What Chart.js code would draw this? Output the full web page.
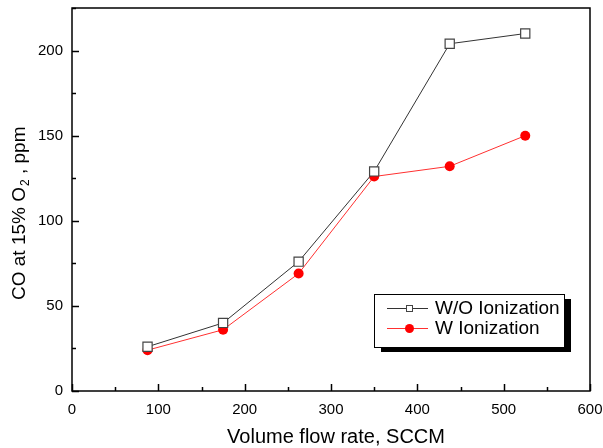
<!DOCTYPE html>
<html>
<head>
<meta charset="utf-8">
<script src="https://cdn.jsdelivr.net/npm/chart.js@4/dist/chart.umd.min.js"></script>
<style>
  html, body { margin: 0; padding: 0; background: #fff; }
  #wrap { width: 603px; height: 448px; }
</style>
</head>
<body>
<div id="wrap"><canvas id="coChart" width="603" height="448"></canvas></div>
<script>
// данные
const flowRates = [87.5, 175, 262.5, 350, 437.5, 525];
const coWithout = [26, 40, 76, 129, 204, 210];
const coWith = [24, 36, 69, 126, 132, 150];
const xTicks = [0, 100, 200, 300, 400, 500, 600];
const yTicks = [0, 50, 100, 150, 200];
const seriesNames = ['W/O Ionization', 'W Ionization'];
const xTitle = 'Volume flow rate, SCCM';
const yTitle = ['CO at 15% O', '2', ' , ppm'];

const FONT = 'Arial, "Liberation Sans", sans-serif';

// рамка, внутренние засечки, подписи осей и легенда
const framePlugin = {
    id: 'frame',
    afterDraw(chart) {
        const ctx = chart.ctx;
        const a = chart.chartArea;
        const xs = chart.scales.x, ys = chart.scales.y;
        ctx.save();
        ctx.strokeStyle = '#000';
        ctx.lineWidth = 1.5;
        ctx.strokeRect(a.left, a.top, a.right - a.left, a.bottom - a.top);

        for (let v = 0; v <= 600; v += 50) {
            const px = Math.round(xs.getPixelForValue(v)) + 0.5;
            const len = v % 100 === 0 ? 7 : 4;
            ctx.beginPath();
            ctx.moveTo(px, a.bottom);
            ctx.lineTo(px, a.bottom - len);
            ctx.stroke();
        }
        for (let v = 0; v <= 225; v += 25) {
            const py = Math.round(ys.getPixelForValue(v)) + 0.5;
            const len = v % 50 === 0 ? 7 : 4;
            ctx.beginPath();
            ctx.moveTo(a.left, py);
            ctx.lineTo(a.left + len, py);
            ctx.stroke();
        }

        // подпись оси X
        ctx.fillStyle = '#000';
        ctx.font = '20px ' + FONT;
        ctx.textAlign = 'center';
        ctx.textBaseline = 'middle';
        ctx.fillText(xTitle, 336, 437);

        // подпись оси Y с нижним индексом
        ctx.save();
        ctx.translate(25, 300);
        ctx.rotate(-Math.PI / 2);
        ctx.textAlign = 'left';
        ctx.textBaseline = 'alphabetic';
        let tx = 0;
        ctx.font = '19px ' + FONT;
        ctx.fillText(yTitle[0], tx, 0);
        tx += ctx.measureText(yTitle[0]).width + 1;
        ctx.font = '12px ' + FONT;
        ctx.fillText(yTitle[1], tx, 4);
        tx += ctx.measureText(yTitle[1]).width;
        ctx.font = '19px ' + FONT;
        ctx.fillText(yTitle[2], tx, 0);
        ctx.restore();

        // легенда
        const lx = 374, ly = 294, lw = 190, lh = 53;
        ctx.fillStyle = '#000';
        ctx.fillRect(lx + 7, ly + 5, lw, lh);
        ctx.fillStyle = '#fff';
        ctx.fillRect(lx, ly, lw, lh);
        ctx.lineWidth = 1;
        ctx.strokeStyle = '#000';
        ctx.strokeRect(lx + 0.5, ly + 0.5, lw, lh);

        ctx.font = '19px ' + FONT;
        ctx.textAlign = 'left';
        ctx.textBaseline = 'middle';
        chart.data.datasets.forEach((ds, i) => {
            const cy = ly + 14 + i * 20;
            ctx.strokeStyle = ds.borderColor;
            ctx.lineWidth = 1;
            ctx.beginPath();
            ctx.moveTo(lx + 13, cy + 0.5);
            ctx.lineTo(lx + 54, cy + 0.5);
            ctx.stroke();
            ctx.fillStyle = ds.pointBackgroundColor;
            ctx.strokeStyle = ds.pointBorderColor;
            ctx.beginPath();
            if (ds.pointStyle === 'rect') {
                ctx.fillRect(lx + 32, cy - 3, 7, 7);
                ctx.strokeRect(lx + 32.5, cy - 2.5, 6, 6);
            } else {
                ctx.arc(lx + 35.5, cy + 0.5, 4.5, 0, Math.PI * 2);
                ctx.fill();
            }
            ctx.fillStyle = '#000';
            ctx.fillText(ds.label, lx + 61, cy + 1);
        });
        ctx.restore();
    }
};

const ctx = document.getElementById('coChart').getContext('2d');
const coChart = new Chart(ctx, {
    type: 'line',
    data: {
        datasets: [{
            label: seriesNames[0],
            data: flowRates.map((x, i) => ({ x: x, y: coWithout[i] })),
            borderColor: '#333',
            borderWidth: 1,
            pointStyle: 'rect',
            pointRadius: 6.5,
            pointBackgroundColor: '#fff',
            pointBorderColor: '#444',
            pointBorderWidth: 1.2,
            tension: 0
        }, {
            label: seriesNames[1],
            data: flowRates.map((x, i) => ({ x: x, y: coWith[i] })),
            borderColor: '#ff3030',
            borderWidth: 1,
            pointStyle: 'circle',
            pointRadius: 5,
            pointBackgroundColor: '#ff0000',
            pointBorderColor: '#ff0000',
            pointBorderWidth: 0,
            tension: 0
        }]
    },
    options: {
        responsive: false,
        animation: false,
        layout: { padding: { top: 8, right: 13, left: 0, bottom: 0 } },
        plugins: {
            legend: { display: false },
            tooltip: { enabled: false }
        },
        scales: {
            x: {
                type: 'linear',
                min: 0,
                max: 600,
                afterBuildTicks: s => { s.ticks = xTicks.map(v => ({ value: v })); },
                afterFit: s => { s.height = 57; s.paddingLeft = 0; s.paddingRight = 0; },
                grid: { display: false, drawTicks: false },
                border: { display: false },
                ticks: {
                    color: '#000',
                    padding: 10,
                    maxRotation: 0,
                    font: { family: FONT, size: 15 }
                }
            },
            y: {
                type: 'linear',
                min: 0,
                max: 225,
                afterBuildTicks: s => { s.ticks = yTicks.map(v => ({ value: v })); },
                afterFit: s => { s.width = 72; s.paddingTop = 0; s.paddingBottom = 0; },
                grid: { display: false, drawTicks: false },
                border: { display: false },
                ticks: {
                    color: '#000',
                    padding: 9,
                    font: { family: FONT, size: 15 }
                }
            }
        }
    },
    plugins: [framePlugin]
});
</script>
</body>
</html>
